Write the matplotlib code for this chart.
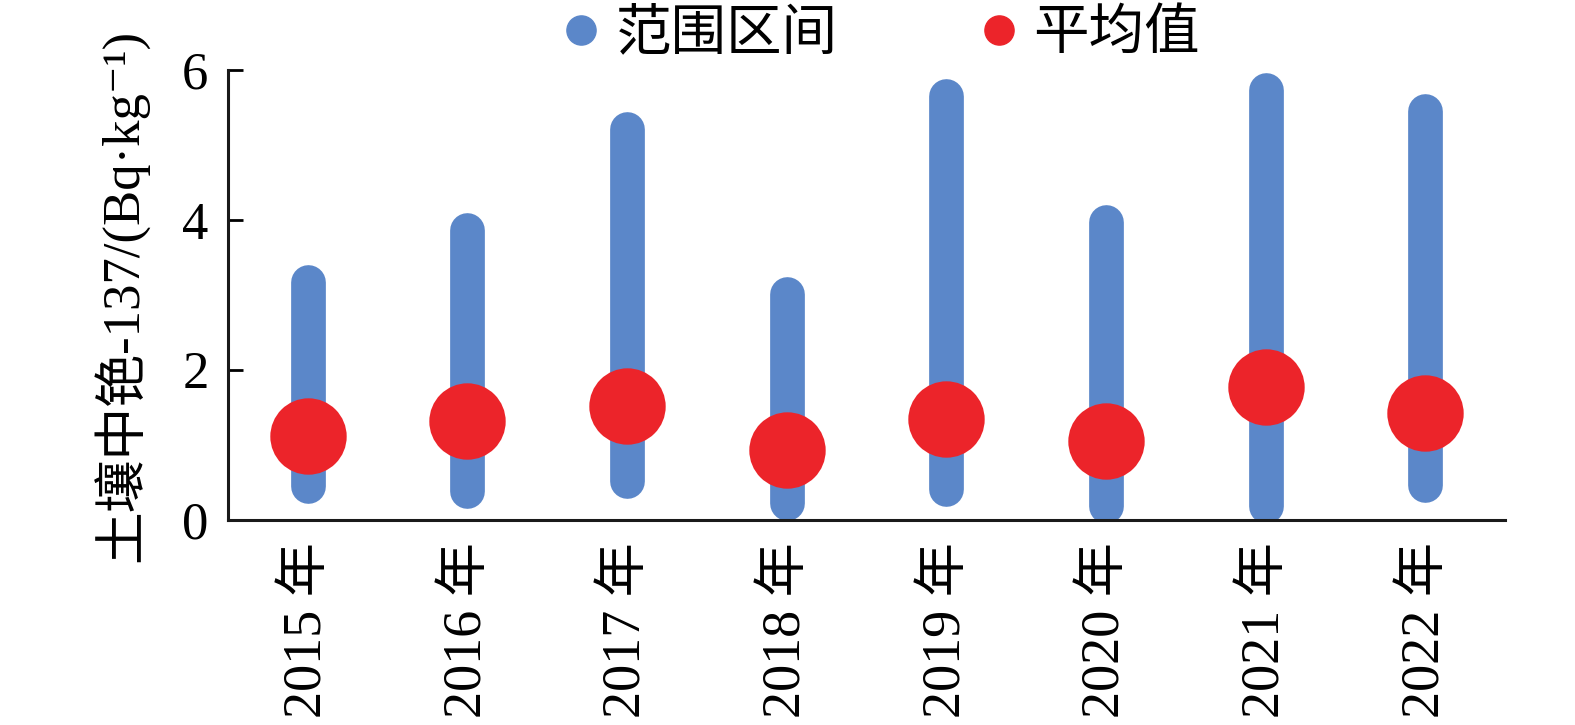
import matplotlib.pyplot as plt
from matplotlib.lines import Line2D

plt.rcParams['font.family'] = ['Liberation Serif', 'Noto Sans CJK SC', 'DejaVu Serif']

# data
years = ['2015 年', '2016 年', '2017 年', '2018 年', '2019 年', '2020 年', '2021 年', '2022 年']
range_low = [0.45, 0.38, 0.52, 0.23, 0.41, 0.19, 0.19, 0.47]
range_high = [3.18, 3.87, 5.21, 3.02, 5.66, 3.97, 5.74, 5.45]
mean_vals = [1.12, 1.32, 1.52, 0.93, 1.34, 1.05, 1.77, 1.43]

blue = '#5b87c9'
red = '#ec242a'

fig = plt.figure(figsize=(15.75, 7.25), dpi=100)
ax = fig.add_axes([0.1448, 0.2828, 0.8108, 0.6206])

x = list(range(len(years)))
for i in x:
    ax.plot([i, i], [range_low[i], range_high[i]], color=blue, lw=25,
            solid_capstyle='round', zorder=2)
ax.plot(x, mean_vals, 'o', color=red, markersize=55, markeredgewidth=0, zorder=3)

ax.set_xlim(-0.5, len(years) - 0.5)
ax.set_ylim(0, 6)
ax.set_yticks([0, 2, 4, 6])
ax.set_xticks(x)
ax.set_xticklabels(years, rotation=90)
ax.tick_params(axis='y', direction='in', length=11, width=2, labelsize=38, pad=14)
ax.tick_params(axis='x', length=0, labelsize=39, pad=16)
for s in ['top', 'right']:
    ax.spines[s].set_visible(False)
for s in ['left', 'bottom']:
    ax.spines[s].set_linewidth(2.2)
    ax.spines[s].set_color('#1a1a1a')

ax.set_ylabel('土壤中铯-137/(Bq·kg⁻¹)', fontsize=38, labelpad=24)

handles = [Line2D([], [], ls='none', marker='o', color=blue, markersize=21),
           Line2D([], [], ls='none', marker='o', color=red, markersize=21)]
ax.legend(handles, ['范围区间', '平均值'], loc='lower center', bbox_to_anchor=(0.508, 0.97),
          ncol=2, frameon=False, fontsize=40, handlelength=1.0, handletextpad=0.12,
          columnspacing=2.4, borderaxespad=0)

fig.savefig('out.png', dpi=100)
